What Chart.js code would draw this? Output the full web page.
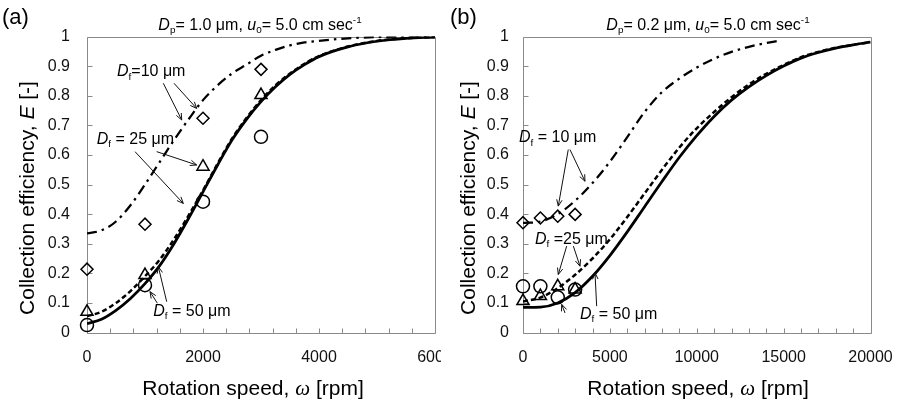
<!DOCTYPE html>
<html><head><meta charset="utf-8">
<script src="https://cdn.jsdelivr.net/npm/chart.js@4/dist/chart.umd.min.js"></script>
<style>
html,body{margin:0;padding:0;background:#fff;width:898px;height:405px;overflow:hidden}
#pa{position:absolute;left:0;top:0;width:441px;height:405px;overflow:hidden}
#pb{position:absolute;left:445px;top:0;width:453px;height:405px;overflow:hidden}
canvas{display:block}
</style></head><body>
<div id="pa"><canvas id="ca" width="455" height="405"></canvas></div>
<div id="pb"><canvas id="cb" width="453" height="405"></canvas></div>
<script>
// ---------------- data ----------------
const markX = [0, 1000, 2000, 3000];

// panel (a): Dp = 1.0 um
const xLineA   = [0,250,500,750,1000,1250,1500,1750,2000,2250,2500,2750,3000,3250,3500,3750,4000,4500,5000,5500,6000];
const solidA   = [0.03,0.045,0.075,0.115,0.165,0.225,0.30,0.385,0.475,0.565,0.65,0.72,0.78,0.83,0.872,0.905,0.932,0.965,0.984,0.994,0.998];
const dashedA  = [0.055,0.07,0.10,0.14,0.19,0.245,0.315,0.395,0.48,0.57,0.655,0.725,0.785,0.835,0.875,0.908,0.934,0.966,0.985,0.994,0.998];
const dashDotA = [0.335,0.345,0.375,0.43,0.50,0.575,0.65,0.72,0.785,0.835,0.875,0.905,0.935,0.955,0.97,0.98,0.985,0.994,0.998,1.0,1.0];
const diamondA  = [0.214, 0.366, 0.724, 0.889];
const triangleA = [0.07, 0.194, 0.56, 0.802];
const circleA   = [0.025, 0.16, 0.442, 0.661];
const xLabelsA  = [0, 2000, 4000, 6000];

// panel (b): Dp = 0.2 um
const xLineB   = [0,1000,2000,3000,4000,5000,6000,7000,8000,9000,10000,11000,12000,13000,14000,15000,16000,17000,18000,19000,20000];
const solidB   = [0.085,0.086,0.10,0.135,0.19,0.26,0.34,0.425,0.51,0.592,0.665,0.73,0.785,0.83,0.868,0.90,0.927,0.946,0.961,0.972,0.981];
const dashedB  = [0.105,0.118,0.15,0.195,0.25,0.315,0.39,0.47,0.55,0.625,0.69,0.745,0.795,0.838,0.874,0.904,0.93,0.948,0.962,0.972,0.981];
const xDashDotB = [0,1000,2000,3000,4000,5000,6000,7000,8000,9000,10000,11000,12000,13000,14000,14700];
const dashDotB  = [0.37,0.375,0.40,0.445,0.505,0.577,0.66,0.745,0.812,0.858,0.895,0.925,0.948,0.965,0.978,0.985];
const diamondB  = [0.371, 0.387, 0.393, 0.399];
const triangleB = [0.106, 0.123, 0.156, 0.145];
const circleB   = [0.156, 0.156, 0.119, 0.145];
const xLabelsB  = [0, 5000, 10000, 15000, 20000];

const yTickValues = [0,0.1,0.2,0.3,0.4,0.5,0.6,0.7,0.8,0.9,1];

// ---------------- helpers ----------------
const SANS = '"Liberation Sans", Arial, sans-serif';
const SERIF = '"Liberation Serif", "Times New Roman", serif';
function runFont(r, size){
  const s = r.s || '';
  let sz = size, fam = SANS, it = '';
  if (s.includes('i')) it = 'italic ';
  if (s.includes('w')) fam = SERIF;
  if (s.includes('b') || s.includes('p')) sz = size*0.62;
  return it + sz + 'px ' + fam;
}
function runDy(r, size){ const s=r.s||''; if(s.includes('b')) return size*0.2; if(s.includes('p')) return -size*0.38; return 0; }
function richWidth(ctx, runs, size){ let w=0; for(const r of runs){ctx.font=runFont(r,size); w+=ctx.measureText(r.t).width;} return w; }
function drawRich(ctx, runs, x, y, size, align, color){
  ctx.save(); ctx.fillStyle=color||'#000'; ctx.textBaseline='alphabetic'; ctx.textAlign='left';
  const w = richWidth(ctx,runs,size);
  let cx = align==='center' ? x-w/2 : (align==='right' ? x-w : x);
  for(const r of runs){ ctx.font=runFont(r,size); ctx.fillText(r.t, cx, y+runDy(r,size)); cx+=ctx.measureText(r.t).width; }
  ctx.restore();
}
const toXY = (xs, ys) => xs.map((v,i)=>({x:v, y:ys[i]}));
function lineDS(xs, ys, dash, w){
  return {data: toXY(xs,ys), showLine:true, borderColor:'#000', borderWidth:w, borderDash:dash,
          pointRadius:0, pointHoverRadius:0, cubicInterpolationMode:'monotone', fill:false};
}
function markDS(ys, style, r){
  return {data: toXY(markX, ys), showLine:false, pointStyle:style, pointRadius:r, pointHoverRadius:r,
          pointBorderColor:'#000', pointBackgroundColor:'rgba(0,0,0,0)', pointBorderWidth:1.5,
          borderColor:'#000', backgroundColor:'rgba(0,0,0,0)', clip:false};
}

const decor = {
  id:'decor',
  beforeDatasetsDraw(chart){
    const {ctx, chartArea:a, scales:{x,y}} = chart;
    ctx.save(); ctx.strokeStyle='#8a8a8a'; ctx.lineWidth=1;
    const L=Math.round(a.left)+0.5, R=Math.round(a.right)+0.5, T=Math.round(a.top)+0.5, B=Math.round(a.bottom)+0.5;
    ctx.beginPath();
    ctx.rect(L,T,R-L,B-T);
    x.ticks.forEach(t=>{const p=Math.round(x.getPixelForValue(t.value))+0.5; ctx.moveTo(p,B); ctx.lineTo(p,B-5);});
    y.ticks.forEach(t=>{const p=Math.round(y.getPixelForValue(t.value))+0.5; ctx.moveTo(L,p); ctx.lineTo(L+5,p);});
    ctx.stroke(); ctx.restore();
  }
};
const notes = {
  id:'notes',
  afterDatasetsDraw(chart, args, opts){
    const {ctx, scales:{x,y}} = chart;
    (opts.items||[]).forEach(it=>{
      const px=x.getPixelForValue(it.x), py=y.getPixelForValue(it.y);
      drawRich(ctx, it.runs, px, py+opts.size*0.36, opts.size, 'left', '#000');
      (it.arrows||[]).forEach(a=>{
        const x1=x.getPixelForValue(a[0]), y1=y.getPixelForValue(a[1]), x2=x.getPixelForValue(a[2]), y2=y.getPixelForValue(a[3]);
        ctx.save(); ctx.strokeStyle='#111'; ctx.lineWidth=1; ctx.beginPath();
        ctx.moveTo(x1,y1); ctx.lineTo(x2,y2);
        const ang=Math.atan2(y2-y1,x2-x1), hl=7, ha=0.4;
        ctx.moveTo(x2-hl*Math.cos(ang-ha), y2-hl*Math.sin(ang-ha)); ctx.lineTo(x2,y2);
        ctx.lineTo(x2-hl*Math.cos(ang+ha), y2-hl*Math.sin(ang+ha));
        ctx.stroke(); ctx.restore();
      });
    });
  }
};
const texts = {
  id:'texts',
  afterDraw(chart, args, opts){
    const ctx = chart.ctx;
    (opts.items||[]).forEach(t=>{
      if (t.rotate){
        ctx.save(); ctx.translate(t.x, t.y); ctx.rotate(-Math.PI/2);
        drawRich(ctx, t.runs, 0, t.size*0.35, t.size, 'center', '#000');
        ctx.restore();
      } else drawRich(ctx, t.runs, t.x, t.y, t.size, t.align, '#000');
    });
  }
};

const Df = [{t:'D',s:'i'},{t:'f',s:'b'}];
const yTitle = [{t:'Collection efficiency, '},{t:'E',s:'i'},{t:' [-]'}];
const xTitle = [{t:'Rotation speed, '},{t:'ω',s:'iw'},{t:' [rpm]'}];

function makeChart(id, c){
  return new Chart(document.getElementById(id), {
    type:'scatter',
    data:{datasets:c.datasets},
    options:{
      responsive:false, animation:false, devicePixelRatio:1, events:[],
      layout:{padding:{left:0, right:c.padRight, top:36.5, bottom:0}},
      scales:{
        x:{type:'linear', min:0, max:c.xMax,
           afterFit(s){ s.height=72.5; s.paddingLeft=0; s.paddingRight=0; },
           grid:{display:false, drawTicks:false}, border:{display:false},
           ticks:{stepSize:c.xStep, autoSkip:false, maxRotation:0, minRotation:0, padding:15, color:'#111',
                  font:{family:SANS, size:16},
                  callback:v => c.xLabels.includes(v) ? String(v) : ''}},
        y:{type:'linear', min:0, max:1,
           afterFit(s){ s.width=c.yWidth; s.paddingTop=0; s.paddingBottom=0; },
           grid:{display:false, drawTicks:false}, border:{display:false},
           afterBuildTicks(s){ s.ticks = yTickValues.map(v=>({value:v})); },
           ticks:{padding:c.yPad, color:'#111', font:{family:SANS, size:16},
                  callback:v => String(Math.round(v*10)/10)}}
      },
      plugins:{legend:{display:false}, tooltip:{enabled:false},
               notes:{size:16, items:c.notes}, texts:{items:c.texts}}
    },
    plugins:[decor, notes, texts]
  });
}

makeChart('ca', {
  xMax:6000, xStep:400, xLabels:xLabelsA, yWidth:87, yPad:17, padRight:20,
  datasets:[
    lineDS(xLineA, dashDotA, [10,5,2.5,5], 2.25),
    lineDS(xLineA, dashedA, [5,3], 2.5),
    lineDS(xLineA, solidA, [], 2.75),
    markDS(diamondA, 'rectRot', 6),
    markDS(triangleA, 'triangle', 7),
    markDS(circleA, 'circle', 6.5)
  ],
  notes:[
    {runs:[...Df,{t:'=10 μm'}], x:517, y:0.885, arrows:[[1316,0.842,1633,0.718],[1500,0.842,1891,0.757]]},
    {runs:[...Df,{t:' = 25 μm'}], x:167, y:0.657, arrows:[[1201,0.611,1891,0.566],[828,0.611,1661,0.436]]},
    {runs:[...Df,{t:' = 50 μm'}], x:1143, y:0.076, arrows:[[1374,0.104,1230,0.222],[1213,0.099,1086,0.138]]}
  ],
  texts:[
    {runs:[{t:'(a)'}], x:2, y:24, size:22, align:'left'},
    {runs:[{t:'D',s:'i'},{t:'p',s:'b'},{t:'= 1.0 μm, '},{t:'u',s:'i'},{t:'0',s:'b'},{t:'= 5.0 cm sec'},{t:'-1',s:'p'}], x:260, y:29.5, size:16, align:'center'},
    {runs:xTitle, x:253, y:395, size:21, align:'center'},
    {runs:yTitle, x:27, y:198, size:21, rotate:true}
  ]
});

makeChart('cb', {
  xMax:20000, xStep:1000, xLabels:xLabelsB, yWidth:78, yPad:14, padRight:27.5,
  datasets:[
    lineDS(xDashDotB, dashDotB, [10,5,2.5,5], 2.25),
    lineDS(xLineB, dashedB, [5,3], 2.5),
    lineDS(xLineB, solidB, [], 2.75),
    markDS(diamondB, 'rectRot', 6),
    markDS(triangleB, 'triangle', 7),
    markDS(circleB, 'circle', 6.5)
  ],
  notes:[
    {runs:[...Df,{t:' = 10 μm'}], x:-230, y:0.662, arrows:[[2606,0.618,2031,0.427],[2704,0.618,3567,0.511]]},
    {runs:[...Df,{t:' =25 μm'}], x:690, y:0.32, arrows:[[2514,0.292,2031,0.196],[2896,0.292,3280,0.224]]},
    {runs:[...Df,{t:' = 50 μm'}], x:3280, y:0.066, arrows:[[2417,0.066,2227,0.095],[4240,0.089,4143,0.202]]}
  ],
  texts:[
    {runs:[{t:'(b)'}], x:5, y:24, size:22, align:'left'},
    {runs:[{t:'D',s:'i'},{t:'p',s:'b'},{t:'= 0.2 μm, '},{t:'u',s:'i'},{t:'0',s:'b'},{t:'= 5.0 cm sec'},{t:'-1',s:'p'}], x:263, y:29.5, size:16, align:'center'},
    {runs:xTitle, x:253, y:395, size:21, align:'center'},
    {runs:yTitle, x:23, y:198, size:21, rotate:true}
  ]
});
</script></body></html>
